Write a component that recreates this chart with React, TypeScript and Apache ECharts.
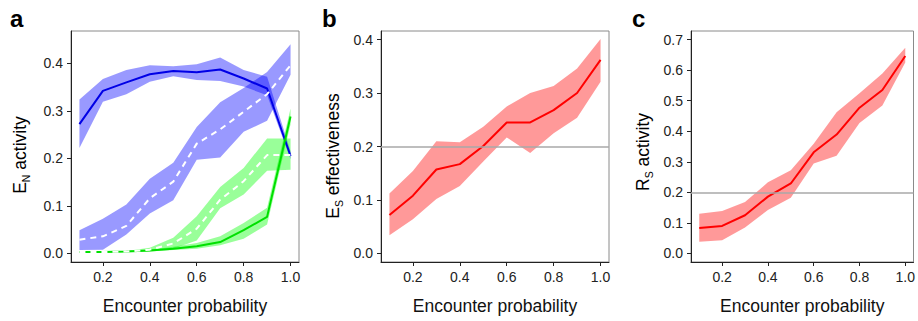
import React, { useEffect, useRef } from "react";
import * as echarts from "echarts";

const X = [0.1, 0.2, 0.3, 0.4, 0.5, 0.6, 0.7, 0.8, 0.9, 1.0];
const X_TICKS = [0.2, 0.4, 0.6, 0.8, 1.0];

// Panel a
const aBlueMid = [0.272, 0.342, 0.36, 0.377, 0.384, 0.381, 0.387, 0.368, 0.347, 0.205];
const aBlueHi = [0.324, 0.367, 0.386, 0.396, 0.394, 0.398, 0.412, 0.386, 0.372, 0.215];
const aBlueLo = [0.222, 0.319, 0.335, 0.361, 0.373, 0.365, 0.363, 0.351, 0.333, 0.198];
const aBlueDashMid = [0.029, 0.036, 0.058, 0.116, 0.151, 0.231, 0.261, 0.298, 0.335, 0.396];
const aBlueDashHi = [0.049, 0.073, 0.103, 0.157, 0.191, 0.266, 0.318, 0.348, 0.382, 0.44];
const aBlueDashLo = [0.007, 0.008, 0.04, 0.084, 0.112, 0.197, 0.202, 0.256, 0.279, 0.376];
const aGreenDashMid = [0.003, 0.003, 0.004, 0.008, 0.021, 0.052, 0.113, 0.152, 0.207, 0.207];
const aGreenDashHi = [0.004, 0.004, 0.005, 0.012, 0.033, 0.078, 0.14, 0.18, 0.242, 0.242];
const aGreenDashLo = [0.002, 0.002, 0.003, 0.005, 0.01, 0.027, 0.095, 0.124, 0.174, 0.176];
const aGreenMid = [0.003, 0.003, 0.004, 0.006, 0.01, 0.015, 0.024, 0.049, 0.077, 0.288];
const aGreenHi = [0.004, 0.004, 0.005, 0.008, 0.014, 0.022, 0.036, 0.064, 0.096, 0.305];
const aGreenLo = [0.002, 0.002, 0.003, 0.004, 0.007, 0.01, 0.017, 0.031, 0.061, 0.272];

// Panel b
const bMid = [0.072, 0.108, 0.157, 0.167, 0.201, 0.245, 0.245, 0.268, 0.3, 0.362];
const bHi = [0.112, 0.154, 0.21, 0.208, 0.237, 0.275, 0.3, 0.313, 0.346, 0.401];
const bLo = [0.034, 0.064, 0.102, 0.126, 0.172, 0.217, 0.188, 0.225, 0.254, 0.321];

// Panel c
const cMid = [0.083, 0.09, 0.125, 0.186, 0.229, 0.331, 0.389, 0.477, 0.535, 0.646];
const cHi = [0.13, 0.139, 0.168, 0.233, 0.272, 0.359, 0.462, 0.524, 0.589, 0.673];
const cLo = [0.038, 0.043, 0.085, 0.142, 0.182, 0.294, 0.32, 0.427, 0.484, 0.625];

const Y_TICKS_A = [0, 0.1, 0.2, 0.3, 0.4];
const Y_TICKS_B = [0, 0.1, 0.2, 0.3, 0.4];
const Y_TICKS_C = [0, 0.1, 0.2, 0.3, 0.4, 0.5, 0.6, 0.7];

const FONT = "'Liberation Sans', Arial, Helvetica, sans-serif";
const BLUE_BAND = "rgba(0,0,255,0.4)";
const GREEN_BAND = "rgba(0,255,0,0.4)";
const RED_BAND = "rgba(255,0,0,0.4)";

function band(idx: number, hi: number[], lo: number[], fill: string) {
  return {
    type: "custom",
    xAxisIndex: idx,
    yAxisIndex: idx,
    data: [[X[0], lo[0]]],
    silent: true,
    renderItem: (params: any, api: any) => {
      const pts: number[][] = [];
      for (let i = 0; i < X.length; i++) pts.push(api.coord([X[i], hi[i]]));
      for (let i = X.length - 1; i >= 0; i--) pts.push(api.coord([X[i], lo[i]]));
      return { type: "polygon", shape: { points: pts }, style: { fill, stroke: "none" } };
    },
  };
}

function line(idx: number, vals: number[], color: string, dashed = false) {
  return {
    type: "line",
    xAxisIndex: idx,
    yAxisIndex: idx,
    data: X.map((x, i) => [x, vals[i]]),
    symbol: "none",
    silent: true,
    lineStyle: { color, width: 2, type: dashed ? [6, 5] : "solid" },
  };
}

const fmt = (v: number) => v.toFixed(1);

function xAxis(idx: number) {
  return {
    type: "value",
    gridIndex: idx,
    min: 0.064,
    max: 1.036,
    splitLine: { show: false },
    axisLine: { show: true, onZero: false, lineStyle: { color: "#222", width: 1 } },
    axisTick: { show: true, length: 4, customValues: X_TICKS, lineStyle: { color: "#222" } },
    axisLabel: { customValues: X_TICKS, formatter: fmt, fontSize: 14, color: "#222", fontFamily: FONT, margin: 8 },
    name: "Encounter probability",
    nameLocation: "middle",
    nameGap: 35,
    nameTextStyle: { fontSize: 17.5, color: "#111", fontFamily: FONT },
  };
}

const RICH = {
  m: { fontSize: 17.5, fontFamily: FONT, color: "#111", lineHeight: 22, verticalAlign: "middle" },
  s: { fontSize: 10.5, fontFamily: FONT, color: "#111", lineHeight: 10, verticalAlign: "bottom" },
};

function yAxis(idx: number, min: number, max: number, ticks: number[]) {
  return {
    type: "value",
    gridIndex: idx,
    min,
    max,
    splitLine: { show: false },
    axisLine: { show: true, onZero: false, lineStyle: { color: "#222", width: 1 } },
    axisTick: { show: true, length: 4, customValues: ticks, lineStyle: { color: "#222" } },
    axisLabel: { customValues: ticks, formatter: fmt, fontSize: 14, color: "#222", fontFamily: FONT, margin: 8 },
  };
}

function yTitle(x: number, y: number, text: string) {
  return {
    type: "text",
    x,
    y,
    rotation: Math.PI / 2,
    style: { text, rich: RICH, align: "center", verticalAlign: "middle" },
  };
}

const GRID_BASE = { top: 31, height: 231, show: true, borderColor: "#8a8a8a", borderWidth: 1, backgroundColor: "transparent" };

export default function App() {
  const ref = useRef<HTMLDivElement>(null);
  useEffect(() => {
    document.body.style.margin = "0";
    const chart = echarts.init(ref.current!, null, { renderer: "svg" });
    const hline = {
      silent: true,
      symbol: "none",
      label: { show: false },
      lineStyle: { color: "#a8a8a8", width: 1.5, type: "solid" },
      data: [{ yAxis: 0.2 }],
    };
    const option: any = {
      animation: false,
      backgroundColor: "#fff",
      grid: [
        { ...GRID_BASE, left: 71, width: 228 },
        { ...GRID_BASE, left: 381, width: 228 },
        { ...GRID_BASE, left: 691, width: 225 },
      ],
      xAxis: [xAxis(0), xAxis(1), xAxis(2)],
      yAxis: [
        yAxis(0, -0.018, 0.468, Y_TICKS_A),
        yAxis(1, -0.016, 0.416, Y_TICKS_B),
        yAxis(2, -0.028, 0.728, Y_TICKS_C),
      ],
      graphic: [
        { type: "text", left: 10, top: 6, style: { text: "a", font: `bold 24px ${FONT}`, fill: "#000" } },
        { type: "text", left: 322, top: 6, style: { text: "b", font: `bold 24px ${FONT}`, fill: "#000" } },
        { type: "text", left: 632, top: 6, style: { text: "c", font: `bold 24px ${FONT}`, fill: "#000" } },
        yTitle(20, 155, "{m|E}{s|N}{m| activity}"),
        yTitle(333, 156, "{m|E}{s|S}{m| effectiveness}"),
        yTitle(643, 152, "{m|R}{s|S}{m| activity}"),
      ],
      series: [
        band(0, aBlueHi, aBlueLo, BLUE_BAND),
        band(0, aBlueDashHi, aBlueDashLo, BLUE_BAND),
        band(0, aGreenDashHi, aGreenDashLo, GREEN_BAND),
        band(0, aGreenHi, aGreenLo, GREEN_BAND),
        line(0, aBlueMid, "#0000e6"),
        line(0, aGreenMid, "#00e000"),
        line(0, aBlueDashMid, "#ffffff", true),
        line(0, aGreenDashMid, "#ffffff", true),
        band(1, bHi, bLo, RED_BAND),
        { ...line(1, bMid, "#ff0000"), markLine: hline },
        band(2, cHi, cLo, RED_BAND),
        { ...line(2, cMid, "#ff0000"), markLine: hline },
      ],
    };
    chart.setOption(option);
    return () => chart.dispose();
  }, []);
  return <div ref={ref} style={{ position: "fixed", left: 0, top: 0, width: 918, height: 321 }} />;
}
